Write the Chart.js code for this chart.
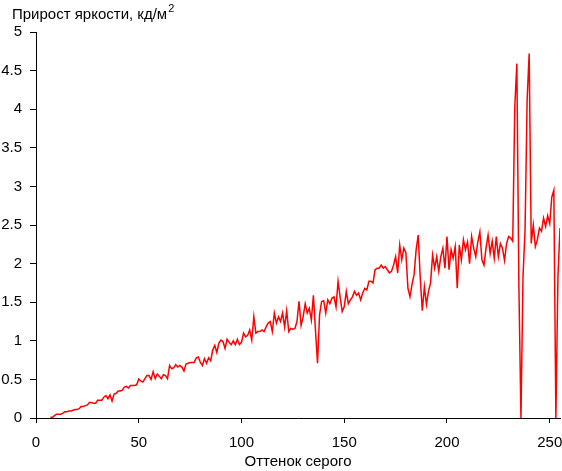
<!DOCTYPE html>
<html>
<head>
<meta charset="utf-8">
<script src="https://cdn.jsdelivr.net/npm/chart.js@4/dist/chart.umd.min.js"></script>
<style>
  html, body { margin: 0; padding: 0; background: #fff; }
  #wrap { width: 562px; height: 471px; }
</style>
</head>
<body>
<div id="wrap"><canvas id="chart" width="562" height="471"></canvas></div>
<script>
// прирост яркости по оттенкам серого 0..255 (null - нет данных)
const grayLevels = Array.from({ length: 256 }, (_, i) => i);
const brightnessGain = [
  null, null, null, null, null, null, null, 0.01, 0.01, 0.03,
  0.05, 0.05, 0.05, 0.06, 0.08, 0.08, 0.09, 0.09, 0.10, 0.11,
  0.11, 0.12, 0.15, 0.15, 0.16, 0.17, 0.20, 0.20, 0.19, 0.19,
  0.23, 0.23, 0.23, 0.27, 0.29, 0.25, 0.30, 0.22, 0.31, 0.32,
  0.35, 0.35, 0.36, 0.40, 0.41, 0.39, 0.42, 0.42, 0.42, 0.43,
  0.505, 0.48, 0.465, 0.51, 0.55, 0.55, 0.50, 0.60, 0.51, 0.57,
  0.54, 0.51, 0.56, 0.55, 0.51, 0.68, 0.64, 0.65, 0.69, 0.66,
  0.68, 0.66, 0.61, 0.70, 0.71, 0.72, 0.72, 0.72, 0.78, 0.79,
  0.72, 0.68, 0.77, 0.71, 0.78, 0.74, 0.88, 0.94, 0.85, 0.97,
  1.01, 0.99, 0.90, 1.02, 0.98, 0.95, 1.00, 0.95, 1.02, 0.95,
  0.98, 1.10, 1.05, 1.07, 1.14, 1.01, 1.31, 1.10, 1.12, 1.12,
  1.14, 1.12, 1.18, 1.23, 1.25, 1.12, 1.36, 1.23, 1.31, 1.25,
  1.36, 1.18, 1.39, 1.12, 1.16, 1.15, 1.16, 1.25, 1.51, 1.20,
  1.31, 1.48, 1.36, 1.42, 1.27, 1.59, 1.14, 0.71, 1.34, 1.51,
  1.52, 1.36, 1.53, 1.48, 1.55, 1.57, 1.44, 1.77, 1.57, 1.38,
  1.44, 1.64, 1.48, 1.53, 1.57, 1.64, 1.59, 1.62, 1.53, 1.62,
  1.68, 1.66, 1.77, 1.77, 1.75, 1.92, 1.94, 1.94, 1.98, 1.94,
  1.96, 1.92, 1.88, 1.90, 1.98, 2.09, 1.88, 2.24, 2.05, 2.20,
  2.14, 1.68, 1.57, 1.73, 1.86, 2.18, 2.37, 1.81, 1.39, 1.70,
  1.47, 1.64, 1.75, 2.11, 1.94, 2.09, 1.90, 2.09, 2.20, 1.94,
  2.35, 1.92, 2.18, 2.07, 2.22, 1.68, 2.24, 2.05, 2.31, 2.18,
  2.28, 2.00, 2.35, 2.20, 2.09, 2.28, 2.41, 2.05, 1.98, 2.20,
  2.37, 2.13, 2.29, 2.07, 2.35, 2.09, 2.26, 2.20, 2.04, 2.26,
  2.35, 2.33, 2.29, 4.03, 4.59, 1.70, 0.00, 1.83, 2.44, 4.12,
  4.72, 2.26, 2.50, 2.22, 2.31, 2.46, 2.42, 2.59, 2.48, 2.62,
  2.52, 2.86, 2.95, 0.00, 1.83, 2.46
];
const xTicks = [0, 50, 100, 150, 200, 250];
const yMax = 5;
const yStep = 0.5;

const points = grayLevels.map((g, i) => ({ x: g, y: brightnessGain[i] }));

// заголовок оси Y сверху слева
const topTitle = {
  id: "topTitle",
  afterDraw(chart) {
    const ctx = chart.ctx;
    ctx.save();
    ctx.fillStyle = "#000";
    ctx.font = "15px 'Liberation Sans', Arial, sans-serif";
    ctx.textBaseline = "alphabetic";
    ctx.fillText("Прирост яркости, кд/м", 12, 19);
    const w = ctx.measureText("Прирост яркости, кд/м").width;
    ctx.font = "11px 'Liberation Sans', Arial, sans-serif";
    ctx.fillText("2", 12 + w + 1, 12);
    ctx.restore();
  }
};

new Chart(document.getElementById("chart"), {
  type: "line",
  data: {
    datasets: [{
      data: points,
      borderColor: "#ff0000",
      borderWidth: 1.5,
      pointRadius: 0,
      tension: 0,
      spanGaps: false
    }]
  },
  options: {
    responsive: false,
    animation: false,
    layout: { padding: { top: 32, right: 2, left: 0, bottom: 0 } },
    plugins: { legend: { display: false }, tooltip: { enabled: false } },
    scales: {
      x: {
        type: "linear",
        min: 0,
        max: 255,
        afterBuildTicks: (scale) => { scale.ticks = xTicks.map(v => ({ value: v })); },
        afterFit: (scale) => { scale.height = 53; scale.paddingRight = 0; scale.paddingLeft = 0; },
        grid: { drawOnChartArea: false, tickLength: 5, color: "#000" },
        border: { color: "#000", width: 1 },
        ticks: { color: "#000", font: { family: "'Liberation Sans', Arial", size: 15 }, padding: 11, maxRotation: 0 },
        title: {
          display: true,
          text: "Оттенок серого",
          color: "#000",
          font: { family: "'Liberation Sans', Arial", size: 15 },
          padding: { top: 0, bottom: 0 }
        }
      },
      y: {
        min: 0,
        max: yMax,
        afterFit: (scale) => { scale.width = 36; },
        grid: { drawOnChartArea: false, tickLength: 6, color: "#000" },
        border: { color: "#000", width: 1 },
        ticks: {
          stepSize: yStep,
          color: "#000",
          font: { family: "'Liberation Sans', Arial", size: 15 },
          padding: 8,
          callback: (v) => String(v)
        }
      }
    }
  },
  plugins: [topTitle]
});
</script>
</body>
</html>
